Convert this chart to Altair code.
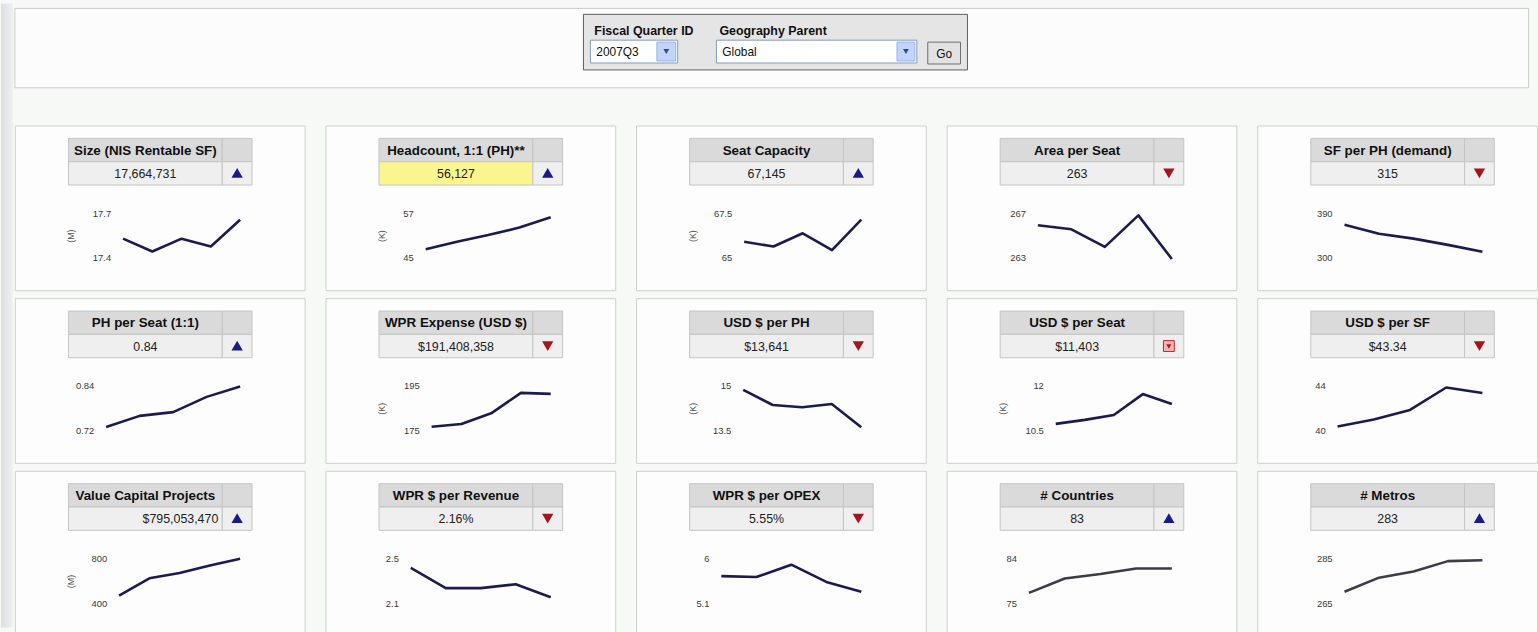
import altair as alt
import pandas as pd

# ---------------- data ----------------
quarters = ["2006Q3", "2006Q4", "2007Q1", "2007Q2", "2007Q3"]

titles = [
    "Size (NIS Rentable SF)", "Headcount, 1:1 (PH)**", "Seat Capacity", "Area per Seat", "SF per PH (demand)",
    "PH per Seat (1:1)", "WPR Expense (USD $)", "USD $ per PH", "USD $ per Seat", "USD $ per SF",
    "Value Capital Projects", "WPR $ per Revenue", "WPR $ per OPEX", "# Countries", "# Metros",
]
current_values = [
    "17,664,731", "56,127", "67,145", "263", "315",
    "0.84", "$191,408,358", "$13,641", "$11,403", "$43.34",
    "$795,053,470", "2.16%", "5.55%", "83", "283",
]
trend = [
    "up", "up", "up", "down", "down",
    "up", "down", "down", "down-box", "down",
    "up", "down", "down", "up", "up",
]
highlighted = [False, True, False, False, False,
               False, False, False, False, False,
               False, False, False, False, False]
value_align = ["center"] * 10 + ["right"] + ["center"] * 4
units = ["(M)", "(K)", "(K)", "", "",
         "", "(K)", "(K)", "(K)", "",
         "(M)", "", "", "", ""]
tick_labels = [
    ("17.4", "17.7"), ("45", "57"), ("65", "67.5"), ("263", "267"), ("300", "390"),
    ("0.72", "0.84"), ("175", "195"), ("13.5", "15"), ("10.5", "12"), ("40", "44"),
    ("400", "800"), ("2.1", "2.5"), ("5.1", "6"), ("75", "84"), ("265", "285"),
]

size_sf = [17.533, 17.447, 17.533, 17.480, 17.660]
headcount = [47.5, 49.5, 51.3, 53.3, 56.1]
seat_capacity = [65.94, 65.67, 66.41, 65.47, 67.17]
area_per_seat = [265.97, 265.61, 264.04, 266.86, 262.95]
sf_per_ph = [368.0, 350.0, 340.0, 327.4, 313.4]
ph_per_seat = [0.731, 0.761, 0.771, 0.812, 0.840]
wpr_expense = [176.95, 178.16, 182.97, 192.14, 191.69]
usd_per_ph = [14.889, 14.378, 14.300, 14.411, 13.633]
usd_per_seat = [10.744, 10.878, 11.044, 11.744, 11.411]
usd_per_sf = [40.41, 41.04, 41.90, 43.91, 43.41]
value_capital = [473.0, 628.0, 675.0, 742.0, 803.0]
wpr_per_revenue = [2.421, 2.240, 2.240, 2.275, 2.158]
wpr_per_opex = [5.658, 5.639, 5.888, 5.540, 5.343]
countries = [77.2, 80.1, 81.0, 82.1, 82.1]
metros = [270.4, 276.7, 279.5, 284.1, 284.5]

series = [size_sf, headcount, seat_capacity, area_per_seat, sf_per_ph,
          ph_per_seat, wpr_expense, usd_per_ph, usd_per_seat, usd_per_sf,
          value_capital, wpr_per_revenue, wpr_per_opex, countries, metros]

# ---------------- layout (pixels) ----------------
line_start = [109, 101, 109, 92, 88,
              92, 107, 108, 110, 81,
              105, 86, 86, 83, 88]
LINE_END = 227
Y_LO, Y_HI = 134, 89          # pixel rows of lower / upper tick labels
TBL_L, TBL_DIV, TBL_R = 54, 209, 239
ROW1_T, ROW_MID, ROW2_B = 13, 36.5, 60

FONT = "Liberation Sans"
NAVY = "#1c1a4e"
GREYLINE = "#3c3c4a"


def panel(i, w, h):
    one = alt.Chart(pd.DataFrame({"title": [titles[i]], "value": [current_values[i]]}))

    def box(x1, x2, y1, y2, fill, stroke="#c3c6c3"):
        return one.mark_rect(fill=fill, stroke=stroke, strokeWidth=1).encode(
            x=alt.value(x1), x2=alt.value(x2), y=alt.value(y1), y2=alt.value(y2))

    vx = (TBL_L + TBL_DIV) / 2 if value_align[i] == "center" else TBL_DIV - 4
    layers = [
        box(TBL_L, TBL_DIV, ROW1_T, ROW_MID, "#dadada"),
        box(TBL_DIV, TBL_R, ROW1_T, ROW_MID, "#dadada"),
        box(TBL_L, TBL_DIV, ROW_MID, ROW2_B, "#fbf590" if highlighted[i] else "#efefef"),
        box(TBL_DIV, TBL_R, ROW_MID, ROW2_B, "#efefef"),
        one.mark_text(font=FONT, fontSize=13.5, fontWeight="bold", color="#111111",
                      align="center", baseline="middle").encode(
            text="title:N", x=alt.value((TBL_L + TBL_DIV) / 2), y=alt.value((ROW1_T + ROW_MID) / 2 + 0.5)),
        one.mark_text(font=FONT, fontSize=12.5, color="#222222",
                      align=value_align[i], baseline="middle").encode(
            text="value:N", x=alt.value(vx), y=alt.value((ROW_MID + ROW2_B) / 2 + 0.5)),
    ]

    ax = (TBL_DIV + TBL_R) / 2
    ay = (ROW_MID + ROW2_B) / 2
    t = trend[i]
    if t == "up":
        layers.append(one.mark_point(shape="triangle-up", filled=True, size=130, color="#1a1a8a", opacity=1)
                      .encode(x=alt.value(ax), y=alt.value(ay - 0.5)))
    elif t == "down":
        layers.append(one.mark_point(shape="triangle-down", filled=True, size=130, color="#a3161c", opacity=1)
                      .encode(x=alt.value(ax), y=alt.value(ay)))
    else:
        layers.append(one.mark_point(shape="square", filled=True, size=120, fill="#f3b4b4",
                                     stroke="#c0282c", strokeWidth=1, opacity=1)
                      .encode(x=alt.value(ax), y=alt.value(ay)))
        layers.append(one.mark_point(shape="triangle-down", filled=True, size=26, color="#b01a1e", opacity=1)
                      .encode(x=alt.value(ax), y=alt.value(ay + 0.5)))

    lo, hi = tick_labels[i]
    yscale = alt.Scale(domain=[float(lo), float(hi)], range=[Y_LO, Y_HI], zero=False, nice=False)
    xscale = alt.Scale(type="point", domain=quarters, range=[line_start[i], LINE_END], padding=0)

    ticks = alt.Chart(pd.DataFrame({"label": [lo, hi], "v": [float(lo), float(hi)]})).mark_text(
        font=FONT, fontSize=9.5, color="#3a3a3a", align="right", baseline="middle").encode(
        text="label:N", x=alt.value(line_start[i] - 12),
        y=alt.Y("v:Q", scale=yscale, axis=None))
    layers.append(ticks)

    if units[i]:
        layers.append(one.mark_text(text=units[i], font=FONT, fontSize=9, color="#555555", angle=270,
                                    align="center", baseline="middle")
                      .encode(x=alt.value(57), y=alt.value((Y_LO + Y_HI) / 2)))

    line = alt.Chart(pd.DataFrame({"quarter": quarters, "v": series[i]})).mark_line(
        color=GREYLINE if i >= 13 else NAVY, strokeWidth=2.6, strokeJoin="round").encode(
        x=alt.X("quarter:O", scale=xscale, axis=None, sort=quarters),
        y=alt.Y("v:Q", scale=yscale, axis=None))
    layers.append(line)

    return alt.layer(*layers).properties(width=w, height=h)


PANEL_W, LAST_W = 292, 282
ROW_H = [166, 166, 164]
rows = []
for r in range(3):
    charts = []
    for c in range(5):
        i = r * 5 + c
        charts.append(panel(i, LAST_W if c == 4 else PANEL_W, ROW_H[r]))
    rows.append(alt.hconcat(*charts, spacing=19))
grid = alt.vconcat(*rows, spacing=6)

# ---------------- header (filter form) ----------------
HDR_W = 1526
HDR_H = 85
DY = -3   # vertical nudge of the header contents
hd = alt.Chart(pd.DataFrame({"k": [0]}))


def hrect(x1, x2, y1, y2, fill, stroke, sw=1):
    return hd.mark_rect(fill=fill, stroke=stroke, strokeWidth=sw).encode(
        x=alt.value(x1), x2=alt.value(x2), y=alt.value(y1 + DY), y2=alt.value(y2 + DY))


def htext(txt, x, y, size=11, weight="normal", align="left", color="#111111"):
    return hd.mark_text(text=txt, font=FONT, fontSize=size, fontWeight=weight, align=align,
                        baseline="middle", color=color).encode(x=alt.value(x), y=alt.value(y + DY))


header = alt.layer(
    hrect(0, HDR_W - 0.5, 8, 88, "#fbfcfb", "#c9cec9"),
    hrect(573, 960, 14, 70, "#e5e5e5", "#5e5e5e"),
    htext("Fiscal Quarter ID", 584, 30.5, 12.5, "bold"),
    htext("Geography Parent", 710, 30.5, 12.5, "bold"),
    hrect(580, 668, 40, 63, "#ffffff", "#7f9db9"),
    htext("2007Q3", 586, 52, 12),
    hrect(647, 666, 42, 61, "#c3d4fb", "#97b2e6"),
    hd.mark_point(shape="triangle-down", filled=True, size=34, color="#2b4a9a", opacity=1)
      .encode(x=alt.value(656.5), y=alt.value(51.5 + DY)),
    hrect(707, 909, 40, 63, "#ffffff", "#7f9db9"),
    htext("Global", 713, 52, 12),
    hrect(889, 907, 42, 61, "#c3d4fb", "#97b2e6"),
    hd.mark_point(shape="triangle-down", filled=True, size=34, color="#2b4a9a", opacity=1)
      .encode(x=alt.value(898), y=alt.value(51.5 + DY)),
    hrect(920, 953, 42, 64, "#e2e2e2", "#6f6f6f"),
    htext("Go", 936.5, 53.5, 12, align="center"),
).properties(width=HDR_W, height=HDR_H,
             view=alt.ViewBackground(fill="transparent", stroke="transparent"))

main = alt.vconcat(header, grid, spacing=36)

# left page strip
strip = hd.mark_rect(
    fill=alt.Gradient(gradient="linear", x1=0, x2=1, y1=0, y2=0,
                      stops=[alt.GradientStop(color="#dcdee3", offset=0),
                             alt.GradientStop(color="#eef0f1", offset=1)])
).encode(x=alt.value(0), x2=alt.value(12), y=alt.value(0), y2=alt.value(629)).properties(
    width=12, height=629, view=alt.ViewBackground(fill="transparent", stroke="transparent"))

chart = alt.hconcat(strip, main, spacing=0).properties(
    padding={"left": 0, "top": 0, "right": 0, "bottom": 0}, background="#f7f9f7"
).configure_view(fill="#fcfdfc", stroke="#cdd1cd", strokeWidth=1)

chart.save("out.html", embed_options={"renderer": "svg", "actions": False})
